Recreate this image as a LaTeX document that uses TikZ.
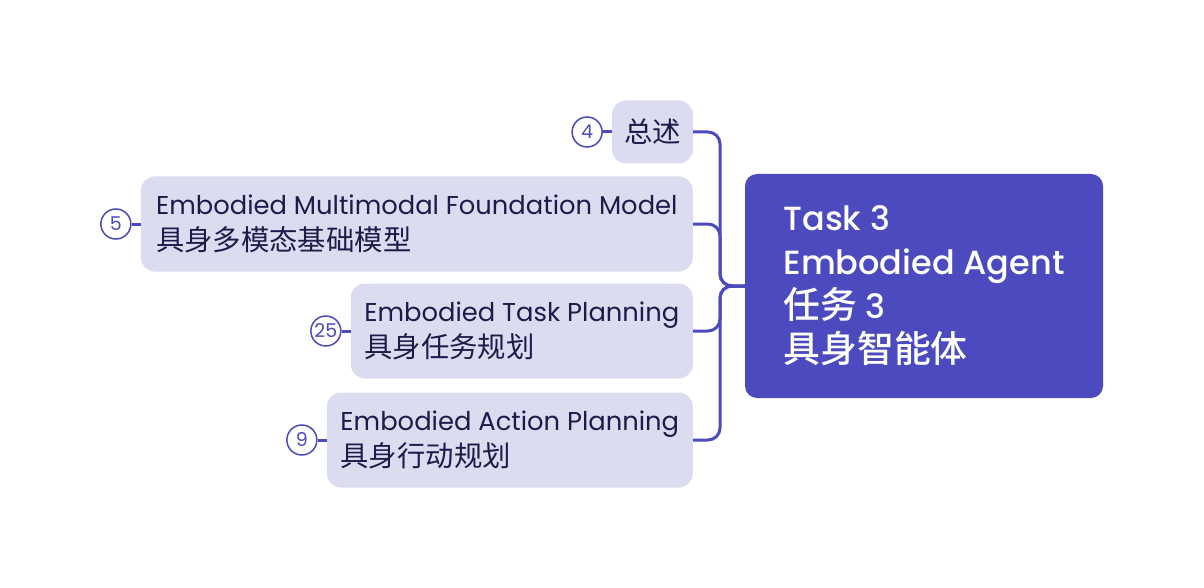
\documentclass[tikz,border=0pt]{standalone}
\usepackage{fontspec}
\setmainfont{Poppins}
\newfontfamily\rootfont{Poppins Medium}
\newfontfamily\cjk{Noto Sans CJK SC}[Scale=1.1]
\newfontfamily\rootcjk{Noto Sans CJK SC Medium}[Scale=1.1]
\usetikzlibrary{positioning}
\definecolor{rootblue}{HTML}{4C4ABF}
\definecolor{leafbg}{HTML}{DCDCF0}
\definecolor{leaftext}{HTML}{1E1B4B}
\tikzset{
    root-box/.style = {fill=rootblue, text=white, rectangle, rounded corners=12pt, minimum width=358pt, minimum height=224pt, align=left, font=\rootfont\fontsize{33.5}{44}\selectfont},
    leaf-box/.style = {fill=leafbg, text=leaftext, rectangle, rounded corners=14pt, inner xsep=12pt, minimum height=95pt, align=left, anchor=east, font=\fontsize{25.8}{36}\selectfont},
    count-badge/.style = {circle, draw=rootblue, line width=1.5pt, fill=white, text=rootblue, minimum size=30pt, inner sep=0pt, font=\fontsize{19}{19}\selectfont},
    link/.style = {draw=rootblue, line width=3pt, rounded corners=12pt},
}
\begin{document}
\begin{tikzpicture}[x=1pt, y=-1pt]
\useasboundingbox (0,0) rectangle (1204,588);
% central topic
\node[root-box] (root) at (924,286) {Task 3\\Embodied Agent\\{\rootcjk 任务} 3\\{\rootcjk 具身智能体}};
\coordinate (hub) at (720,286);
% subtopics
\node[leaf-box, minimum width=80pt, minimum height=63pt, align=center] (overview) at (693,132) {\cjk 总述};
\node[leaf-box, minimum width=552pt] (foundation) at (693,224) {Embodied Multimodal Foundation Model\\{\cjk 具身多模态基础模型}};
\node[leaf-box, minimum width=342pt] (taskplan) at (693,331) {Embodied Task Planning\\{\cjk 具身任务规划}};
\node[leaf-box, minimum width=366pt] (actionplan) at (693,440) {Embodied Action Planning\\{\cjk 具身行动规划}};
% counts
\node[count-badge, left=9pt of overview] (overview-count) {4};
\node[count-badge, left=9pt of foundation] (foundation-count) {5};
\node[count-badge, left=9pt of taskplan] (taskplan-count) {25};
\node[count-badge, left=9pt of actionplan] (actionplan-count) {9};
% connectors
\draw[link] (root.west) -- (hub) |- (overview.east);
\draw[link] (root.west) -- (hub) |- (foundation.east);
\draw[link] (root.west) -- (hub) |- (taskplan.east);
\draw[link] (root.west) -- (hub) |- (actionplan.east);
\draw[link] (overview-count) -- (overview);
\draw[link] (foundation-count) -- (foundation);
\draw[link] (taskplan-count) -- (taskplan);
\draw[link] (actionplan-count) -- (actionplan);
\end{tikzpicture}
\end{document}
